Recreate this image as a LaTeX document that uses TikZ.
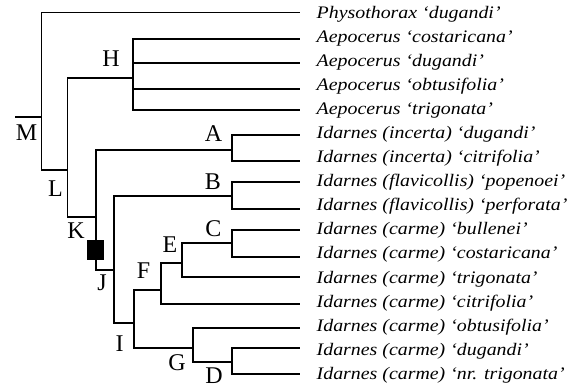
\documentclass[tikz,border=0pt]{standalone}
\usepackage{fontspec}
\setmainfont{Liberation Serif}
\newfontfamily\leaffont[FakeStretch=1.13]{Liberation Serif}
\begin{document}
\begin{tikzpicture}[x=1pt,y=-1pt,
  br/.style={line width=1.2pt},
  leaf/.style={font=\leaffont\itshape\fontsize{17.6}{20}\selectfont, anchor=base west, inner sep=0pt},
  lab/.style={font=\fontsize{24}{28}\selectfont, inner sep=0pt},
  mark box/.style={fill=black, minimum width=17pt, minimum height=20pt, inner sep=0pt}]
\useasboundingbox (0,0) rectangle (574,386);
% internal nodes
\coordinate (R) at (41.7,117);
\coordinate (Mst) at (15,117);
\coordinate (L) at (67.5,170);
\coordinate (H) at (133,78);
\coordinate (K) at (96,217);
\coordinate (A) at (232,150);
\coordinate (J) at (114,270);
\coordinate (B) at (232,196);
\coordinate (I) at (134,323);
\coordinate (F) at (161,290);
\coordinate (E) at (182,263);
\coordinate (C) at (232,243);
\coordinate (G) at (193,348);
\coordinate (D) at (232,362);
% tips
\coordinate (t1) at (300,12.5);
\coordinate (t2) at (300,39);
\coordinate (t3) at (300,63);
\coordinate (t4) at (300,89);
\coordinate (t5) at (300,110);
\coordinate (t6) at (300,135);
\coordinate (t7) at (300,161);
\coordinate (t8) at (300,182);
\coordinate (t9) at (300,209);
\coordinate (t10) at (300,230);
\coordinate (t11) at (300,257);
\coordinate (t12) at (300,277);
\coordinate (t13) at (300,304);
\coordinate (t14) at (300,328);
\coordinate (t15) at (300,348);
\coordinate (t16) at (300,374);
% branches
\draw[br] (Mst) -- (R);
\draw[br] (R) |- (t1);
\draw[br] (R) |- (L);
\draw[br] (L) |- (H);
\draw[br] (L) |- (K);
\draw[br] (H) |- (t2);
\draw[br] (H) |- (t3);
\draw[br] (H) |- (t4);
\draw[br] (H) |- (t5);
\draw[br] (K) |- (A);
\draw[br] (K) |- (J);
\draw[br] (A) |- (t6);
\draw[br] (A) |- (t7);
\draw[br] (J) |- (B);
\draw[br] (J) |- (I);
\draw[br] (B) |- (t8);
\draw[br] (B) |- (t9);
\draw[br] (I) |- (F);
\draw[br] (I) |- (G);
\draw[br] (F) |- (E);
\draw[br] (F) |- (t13);
\draw[br] (E) |- (C);
\draw[br] (E) |- (t12);
\draw[br] (C) |- (t10);
\draw[br] (C) |- (t11);
\draw[br] (G) |- (t14);
\draw[br] (G) |- (D);
\draw[br] (D) |- (t15);
\draw[br] (D) |- (t16);
% black marker
\node[mark box] (sq) at (95.5,250) {};
% clade labels
\node[lab] (lM) at (26.5,133) {M};
\node[lab] (lH) at (111,58.5) {H};
\node[lab] (lL) at (55.5,189) {L};
\node[lab] (lK) at (76,231) {K};
\node[lab] (lJ) at (102,283) {J};
\node[lab] (lI) at (119.5,343.5) {I};
\node[lab] (lG) at (177,362.5) {G};
\node[lab] (lD) at (214,376) {D};
\node[lab] (lF) at (143.5,271) {F};
\node[lab] (lE) at (170,245) {E};
\node[lab] (lC) at (213.5,228.5) {C};
\node[lab] (lB) at (213,182) {B};
\node[lab] (lA) at (213.5,133.5) {A};
% leaf labels (evenly spaced rows)
\node[leaf] (n1) at (316.5,18) {Physothorax ‘dugandi’};
\node[leaf] (n2) at (316.5,42) {Aepocerus ‘costaricana’};
\node[leaf] (n3) at (316.5,66) {Aepocerus ‘dugandi’};
\node[leaf] (n4) at (316.5,90) {Aepocerus ‘obtusifolia’};
\node[leaf] (n5) at (316.5,114.5) {Aepocerus ‘trigonata’};
\node[leaf] (n6) at (316.5,138.5) {Idarnes (incerta) ‘dugandi’};
\node[leaf] (n7) at (316.5,162.5) {Idarnes (incerta) ‘citrifolia’};
\node[leaf] (n8) at (316.5,186.5) {Idarnes (flavicollis) ‘popenoei’};
\node[leaf] (n9) at (316.5,210.5) {Idarnes (flavicollis) ‘perforata’};
\node[leaf] (n10) at (316.5,234.5) {Idarnes (carme) ‘bullenei’};
\node[leaf] (n11) at (316.5,258.5) {Idarnes (carme) ‘costaricana’};
\node[leaf] (n12) at (316.5,283) {Idarnes (carme) ‘trigonata’};
\node[leaf] (n13) at (316.5,307) {Idarnes (carme) ‘citrifolia’};
\node[leaf] (n14) at (316.5,331) {Idarnes (carme) ‘obtusifolia’};
\node[leaf] (n15) at (316.5,355) {Idarnes (carme) ‘dugandi’};
\node[leaf] (n16) at (316.5,379) {Idarnes (carme) ‘nr. trigonata’};
\end{tikzpicture}
\end{document}
